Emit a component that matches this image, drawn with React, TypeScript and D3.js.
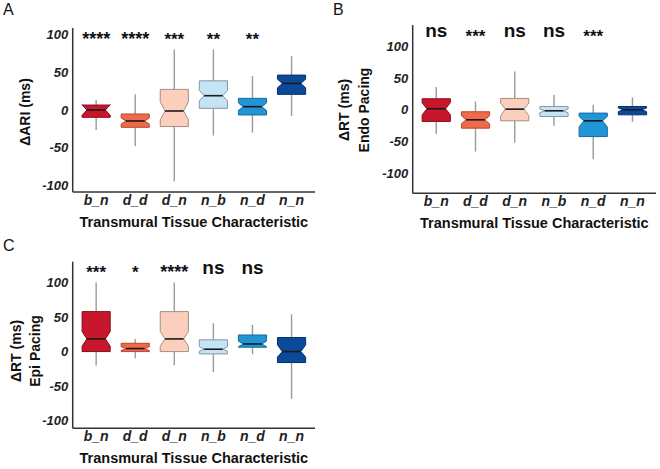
import * as React from 'react';
import * as d3 from 'd3';

// categories shared by all three panels
const categories = ['b_n', 'd_d', 'd_n', 'n_b', 'n_d', 'n_n'];
const fills = ['#c8172c', '#ee6a4b', '#fbcfbb', '#c4e3f5', '#2196d6', '#0b4a9b'];
const strokes = ['#8a0c1c', '#b4492f', '#a58f85', '#8099a8', '#176b9a', '#062f68'];
const yTicks = [-100, -50, 0, 50, 100];

// panel A : delta ARI
const aLo = [-26.5, -47.7, -95, -34, -30, -8];
const aQ1 = [-9.7, -23, -22, 2.2, -6.6, 20.8];
const aMed = [0, -14.6, -1.3, 19, 4.4, 35.3];
const aQ3 = [6.6, -5.3, 27.4, 38.8, 15.5, 46.4];
const aHi = [13.2, 20.8, 80.4, 80.4, 45, 71.5];
const aNotchLo = [-7, -18.6, -13, 12, -0.6, 29.5];
const aNotchHi = [7, -10.6, 11, 26, 9.4, 41];
const aSig = ['****', '****', '***', '**', '**', ''];

// panel B : delta RT, endo pacing
const bLo = [-38, -65.5, -51.4, -25, -77.5, -18.9];
const bQ1 = [-18.3, -28.8, -17.3, -10.5, -42, -7.9];
const bMed = [1.6, -15.7, 1, -1.6, -17.3, 0];
const bQ3 = [17.3, -3.1, 17.8, 5.2, -5.2, 5.2];
const bHi = [35.6, 13, 60, 23.6, 7.9, 19.4];
const bNotchLo = [-8, -22, -9.4, -4.6, -27, -3];
const bNotchHi = [11, -9.4, 10.5, 1.4, -10.5, 3];
const bSig = ['ns', '***', 'ns', 'ns', '***', ''];

// panel C : delta RT, epi pacing
const cLo = [-20, -9.6, -20, -29.8, -3.8, -68.4];
const cQ1 = [0, 0, 0, -3.4, 6.3, -15.9];
const cMed = [18.3, 4.3, 18.3, 3.4, 11, 0];
const cQ3 = [57.8, 12, 57.8, 17, 24, 20.3];
const cHi = [100, 18.3, 100, 41, 38.6, 54];
const cNotchLo = [7.8, 1.5, 7.8, 0.5, 7, -8];
const cNotchHi = [29, 7, 29, 7, 15, 9.7];
const cSig = ['***', '*', '****', 'ns', 'ns', ''];

const FONT = '"Liberation Sans", Arial, Helvetica, sans-serif';

interface PanelProps {
  letter: string;
  letterX: number;
  letterY: number;
  left: number;
  right: number;
  top: number;
  bottom: number;
  domain: [number, number];
  lo: number[];
  q1: number[];
  med: number[];
  q3: number[];
  hi: number[];
  notchLo: number[];
  notchHi: number[];
  sig: string[];
  yLabels: { text: string; x: number }[];
  yLabelMid: number;
  tickSize: number;
}

function Panel(p: PanelProps) {
  const y = d3.scaleLinear().domain(p.domain).range([p.bottom, p.top]);
  const x = d3.scalePoint<string>().domain(categories).range([p.left, p.right]).padding(0.6);
  const step = x.step();
  const hw = step * 0.36;
  const nw = hw * 0.66;
  const line = d3.line<[number, number]>();
  const titleX = (p.left + p.right) / 2;

  return (
    <g fontFamily={FONT}>
      <text x={p.letterX} y={p.letterY} fontSize={16} fill="#111">{p.letter}</text>

      {categories.map((c, i) => {
        const cx = x(c) as number;
        const pts: [number, number][] = [
          [cx - hw, y(p.q3[i])],
          [cx + hw, y(p.q3[i])],
          [cx + hw, y(p.notchHi[i])],
          [cx + nw, y(p.med[i])],
          [cx + hw, y(p.notchLo[i])],
          [cx + hw, y(p.q1[i])],
          [cx - hw, y(p.q1[i])],
          [cx - hw, y(p.notchLo[i])],
          [cx - nw, y(p.med[i])],
          [cx - hw, y(p.notchHi[i])],
        ];
        return (
          <g key={c}>
            <line x1={cx} x2={cx} y1={y(p.hi[i])} y2={y(p.q3[i])} stroke="#9a9a9a" strokeWidth={1.4} />
            <line x1={cx} x2={cx} y1={y(p.q1[i])} y2={y(p.lo[i])} stroke="#9a9a9a" strokeWidth={1.4} />
            <path d={line(pts) + 'Z'} fill={fills[i]} stroke={strokes[i]} strokeWidth={1} />
            <line x1={cx - nw} x2={cx + nw} y1={y(p.med[i])} y2={y(p.med[i])} stroke="#1a1a1a" strokeWidth={1.6} />
          </g>
        );
      })}

      {categories.map((c, i) => {
        const s = p.sig[i];
        if (!s) return null;
        const isNs = s === 'ns';
        return (
          <text key={'s' + c} x={x(c) as number} y={p.top + (isNs ? 12 : 16.5)} textAnchor="middle"
            fontSize={isNs ? 19 : (s.length > 3 ? 18 : 17)} fontWeight="bold" fill="#111">{s}</text>
        );
      })}

      <line x1={p.left} x2={p.left} y1={p.top} y2={p.bottom} stroke="#333" strokeWidth={1.5} />
      <line x1={p.left} x2={p.right} y1={p.bottom} y2={p.bottom} stroke="#333" strokeWidth={1.5} />

      {yTicks.map(t => (
        <text key={t} x={p.left - 4.5} y={y(t)} dy="0.36em" textAnchor="end" fontSize={p.tickSize}
          fontWeight="bold" fontStyle="italic" fill="#222">{t}</text>
      ))}

      {categories.map(c => (
        <text key={'c' + c} x={x(c) as number} y={p.bottom + 13} textAnchor="middle" fontSize={14}
          fontWeight="bold" fontStyle="italic" fill="#222">{c}</text>
      ))}

      <text x={titleX} y={p.bottom + 35} textAnchor="middle" fontSize={14.5} fontWeight="bold" fill="#111">
        Transmural Tissue Characteristic
      </text>

      {p.yLabels.map(l => (
        <text key={l.text} transform={`translate(${l.x},${p.yLabelMid}) rotate(-90)`} textAnchor="middle"
          fontSize={14} fontWeight="bold" fill="#111">{l.text}</text>
      ))}
    </g>
  );
}

export default function App() {
  return (
    <svg width={660} height={469} style={{ position: 'absolute', left: 0, top: 0, background: '#fff' }}>
      <Panel letter="A" letterX={3} letterY={15} left={72.7} right={315} top={28} bottom={192}
        domain={[-109, 109]} lo={aLo} q1={aQ1} med={aMed} q3={aQ3} hi={aHi}
        notchLo={aNotchLo} notchHi={aNotchHi} sig={aSig}
        yLabels={[{ text: 'ΔARI (ms)', x: 30 }]} yLabelMid={112} tickSize={13} />
      <Panel letter="B" letterX={333} letterY={15} left={412.7} right={656} top={25} bottom={193.3}
        domain={[-131, 133]} lo={bLo} q1={bQ1} med={bMed} q3={bQ3} hi={bHi}
        notchLo={bNotchLo} notchHi={bNotchHi} sig={bSig}
        yLabels={[{ text: 'ΔRT (ms)', x: 349 }, { text: 'Endo Pacing', x: 369 }]} yLabelMid={110} tickSize={13} />
      <Panel letter="C" letterX={3} letterY={251} left={72.7} right={315} top={261.7} bottom={428.3}
        domain={[-111, 130]} lo={cLo} q1={cQ1} med={cMed} q3={cQ3} hi={cHi}
        notchLo={cNotchLo} notchHi={cNotchHi} sig={cSig}
        yLabels={[{ text: 'ΔRT (ms)', x: 21 }, { text: 'Epi Pacing', x: 40 }]} yLabelMid={351} tickSize={13} />
    </svg>
  );
}
